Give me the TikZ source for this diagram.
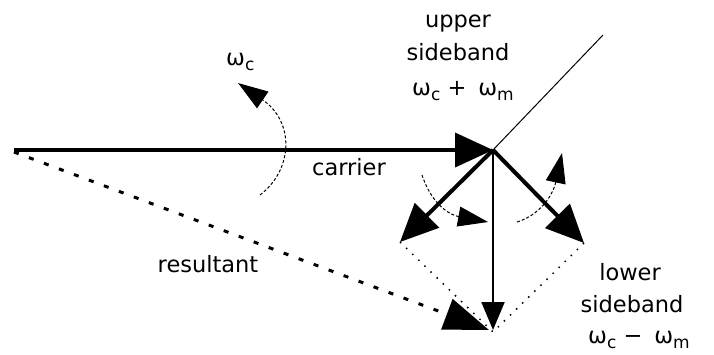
\documentclass[tikz,border=0pt]{standalone}
\usepackage{fontspec}
\setmainfont{DejaVu Sans}
\usetikzlibrary{arrows.meta}
\newcommand\mysub[1]{\raisebox{-5pt}{\fontsize{17}{17}\selectfont #1}}
\begin{document}
\begin{tikzpicture}[x=1pt,y=-1pt,
  lbl/.style={inner sep=0pt,font=\fontsize{22.5}{24}\selectfont},
  bigtip/.style={-{Triangle[length=38pt,width=34pt]}},
  vec/.style={line width=4pt,bigtip},
  rot/.style={line width=1pt,dash pattern=on 3pt off 2pt,-{Triangle[length=30pt,width=20pt]}},
  dots/.style={line width=1.5pt,dash pattern=on 1.5pt off 7pt},
  res/.style={line width=3pt,dash pattern=on 5pt off 11pt,-{Triangle[length=45pt,width=32pt]}}]
\useasboundingbox (0,0) rectangle (714,354);
% key points
\coordinate (S) at (14,150);
\coordinate (O) at (493,150);
\coordinate (U) at (400,242);
\coordinate (L) at (584,243);
\coordinate (V) at (493,330);
\coordinate (R) at (493,332);
\coordinate (T) at (603,35);
\coordinate (RS) at (14,152);
\coordinate (RE) at (489,330);
\coordinate (wa) at (260,195);
\coordinate (wb) at (238,83);
\coordinate (ua) at (422,175);
\coordinate (ub) at (488,222);
\coordinate (la) at (517,222);
\coordinate (lb) at (562,153);
% lines
\draw[line width=1pt] (O) -- (T);
\draw[dots] (U) -- (R);
\draw[dots] (L) -- (R);
\draw[res] (RS) -- (RE);
\draw[line width=4pt,bigtip] (S) -- (O);
\draw[vec] (O) -- (U);
\draw[vec] (O) -- (L);
\draw[line width=2pt,-{Triangle[length=28pt,width=23pt]}] (O) -- (V);
% rotation arrows
\draw[rot] (wa) .. controls (293,170) and (295,122) .. (wb);
\draw[rot] (ua) .. controls (432,205) and (450,215) .. (ub);
\draw[rot] (la) .. controls (540,215) and (553,195) .. (lb);
% labels
\node[lbl,anchor=base west] (wc) at (226,65) {ω\mysub{c}};
\node[lbl,anchor=base] (up) at (458,27) {upper};
\node[lbl,anchor=base] (usb) at (458,60) {sideband};
\node[lbl,anchor=base west] (uf) at (412,95) {ω\mysub{c} +\hspace{12pt}ω\mysub{m}};
\node[lbl,anchor=base] (car) at (349,175) {carrier};
\node[lbl,anchor=base] (resl) at (208,272) {resultant};
\node[lbl,anchor=base] (lo) at (630,280) {lower};
\node[lbl,anchor=base] (lsb) at (632,312) {sideband};
\node[lbl,anchor=base west] (lf) at (588,343) {ω\mysub{c} −\hspace{12pt}ω\mysub{m}};
\end{tikzpicture}
\end{document}
